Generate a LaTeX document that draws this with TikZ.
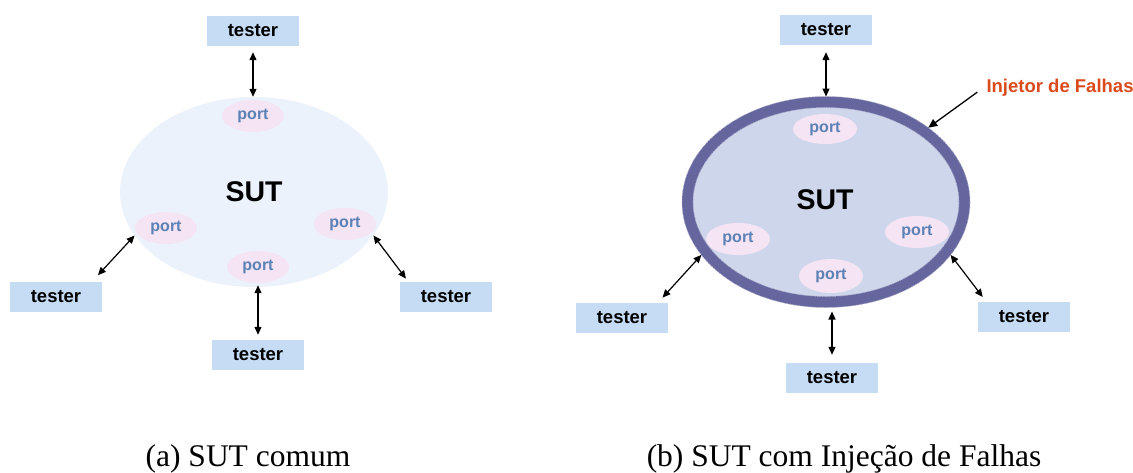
\documentclass[tikz,border=0pt]{standalone}
\usepackage{fontspec}
\setmainfont{Liberation Sans}
\newfontfamily\capfont{Liberation Serif}
\usetikzlibrary{arrows.meta,shapes.geometric}

\definecolor{testerfill}{HTML}{C6DCF4}
\definecolor{sutplain}{HTML}{ECF2FC}
\definecolor{portfill}{HTML}{F4E4F4}
\definecolor{porttext}{HTML}{5B81B5}
\definecolor{sutinner}{HTML}{CED6EB}
\definecolor{ringcol}{HTML}{66669F}
\definecolor{labelred}{HTML}{DA4A1C}

\begin{document}
\begin{tikzpicture}[x=1pt,y=-1pt,
  tester/.style={rectangle,fill=testerfill,minimum width=92pt,minimum height=30pt,
    inner sep=0pt,font=\fontsize{18.5}{20}\selectfont\bfseries},
  port/.style={ellipse,fill=portfill,minimum width=62pt,minimum height=32pt,
    inner sep=0pt,text=porttext,font=\fontsize{16}{18}\selectfont\bfseries},
  sutbase/.style={ellipse,inner sep=0pt,font=\fontsize{28.5}{30}\selectfont\bfseries},
  conn/.style={black,line width=1.2pt,
    {Triangle[length=8pt,width=7pt]}-{Triangle[length=8pt,width=7pt]}},
  pointer/.style={black,line width=1.3pt,-{Triangle[length=9pt,width=8pt]}},
  ringedge/.style={ringcol!55!white,line width=0.6pt,dash pattern=on 1.5pt off 1pt},
  caption/.style={anchor=base,font=\capfont\fontsize{31.5}{34}\selectfont}
]
\useasboundingbox (0,0) rectangle (1133,472);

% ---------- (a) plain system under test ----------
\node[sutbase,fill=sutplain,minimum width=268pt,minimum height=190pt] (sutA) at (254,192) {SUT};

\node[port] (pA1) at (253,116) {port};
\node[port] (pA2) at (166,228) {port};
\node[port] (pA3) at (345,224) {port};
\node[port] (pA4) at (258,267) {port};

\node[tester] (tA1) at (253,31)  {tester};
\node[tester] (tA2) at (56,297)  {tester};
\node[tester] (tA3) at (446,297) {tester};
\node[tester] (tA4) at (258,355) {tester};

\draw[conn,shorten <=6pt] (tA1.south) -- (tA1.south |- sutA.north);
\draw[conn,shorten <=9pt] (tA2.23) -- (sutA.200);
\draw[conn,shorten >=4pt] (sutA.-20) -- (tA3.158);
\draw[conn,shorten <=5pt,shorten >=-2pt] (tA4.north) -- (tA4.north |- sutA.south);

\node[caption] (capA) at (248,466) {(a) SUT comum};

% ---------- (b) system under test wrapped by the fault injector ----------
\node[sutbase,fill=sutinner,draw=ringcol,line width=11pt,outer sep=5.5pt,
      minimum width=277pt,minimum height=200pt] (sutB) at (826,202) {};
\node[font=\fontsize{28.5}{30}\selectfont\bfseries] (sutBtext) at (825,200) {SUT};
\draw[ringedge] (sutB.center) ellipse [x radius=144, y radius=105.5];
\draw[ringedge] (sutB.center) ellipse [x radius=133, y radius=94.5];

\node[port,minimum width=64pt,minimum height=30pt] (pB1) at (825,129) {port};
\node[port,minimum width=64pt] (pB2) at (738,239) {port};
\node[port,minimum width=64pt] (pB3) at (917,232) {port};
\node[port,minimum width=64pt,minimum height=34pt] (pB4) at (831,276) {port};

\node[tester] (tB1) at (826,30)   {tester};
\node[tester] (tB2) at (622,318)  {tester};
\node[tester] (tB3) at (1024,317) {tester};
\node[tester] (tB4) at (832,378)  {tester};

\draw[conn,shorten <=7pt] (tB1.south) -- (tB1.south |- sutB.north);
\draw[conn,shorten <=7pt] (tB2.23) -- (sutB.203);
\draw[conn,shorten >=6pt] (sutB.-23) -- (tB3.158);
\draw[conn,shorten <=8pt,shorten >=4pt] (tB4.north) -- (tB4.north |- sutB.south);

\node[anchor=west,text=labelred,font=\fontsize{18.5}{20}\selectfont\bfseries]
  (inj) at (983,88) {Injetor de Falhas};
\draw[pointer,shorten <=7pt] (inj.west) -- (sutB.36);

\node[caption] (capB) at (844,466) {(b) SUT com Injeção de Falhas};
\end{tikzpicture}
\end{document}
